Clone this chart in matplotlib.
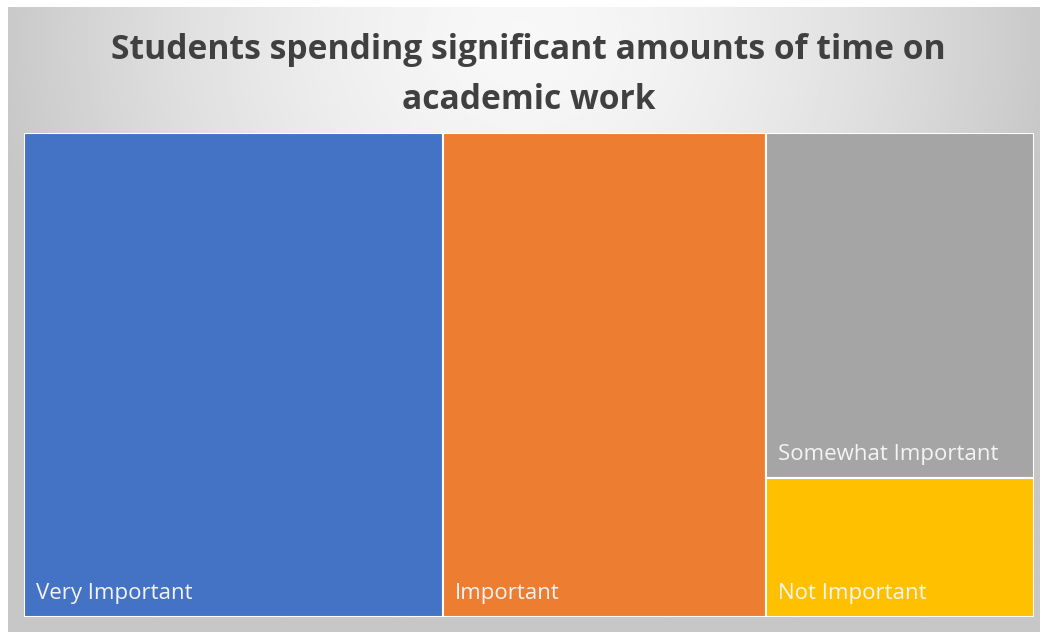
import numpy as np
import matplotlib.pyplot as plt

# Share of students (%) rating time on academic work
categories = ["Very Important", "Important", "Somewhat Important", "Not Important"]
values = [41.5, 32.0, 18.9, 7.6]
colors = ["#4472c4", "#ed7d31", "#a5a5a5", "#ffc000"]

title = "Students spending significant amounts of time on\nacademic work"


def treemap_layout(vals, width, height):
    """Full-height columns for the leading items, last two stacked in one column."""
    total = sum(vals)
    rects = []
    x = 0.0
    for v in vals[:-2]:
        w = width * v / total
        rects.append((x, 0.0, w, height))
        x += w
    rest = vals[-2:]
    w = width - x
    y = height
    for v in rest:
        h = height * v / sum(rest)
        y -= h
        rects.append((x, y, w, h))
    return rects


fig = plt.figure(figsize=(10.4, 6.32), dpi=100)
fig.patch.set_facecolor("white")

# gradient backdrop of the chart frame
bg = fig.add_axes([8 / 1040, 0, 1 - 8 / 1040, 1 - 7 / 632])
gx, gy = np.meshgrid(np.linspace(-1, 1, 400), np.linspace(-1, 1, 250))
r = np.sqrt((gx / 1.0) ** 2 + ((gy + 0.9) / 1.5) ** 2)
shade = np.clip(0.97 - 0.18 * r ** 1.6, 0.78, 0.97)
bg.imshow(shade, cmap="gray", vmin=0, vmax=1, aspect="auto", extent=[0, 1, 0, 1])
bg.set_axis_off()

W, H = 1010.0, 484.0
ax = fig.add_axes([24 / 1040, (632 - 617) / 632, W / 1040, H / 632])
ax.set_xlim(0, W)
ax.set_ylim(0, H)
ax.set_axis_off()

for (x, y, w, h), name, c in zip(treemap_layout(values, W, H), categories, colors):
    ax.add_patch(plt.Rectangle((x, y), w, h, facecolor=c, edgecolor="white", linewidth=1.5))
    ax.text(x + 12, y + 18, name, color="#f4f4f4", fontsize=16,
            family="Open Sans", va="baseline", ha="left")

fig.text(0.508, 1 - 75 / 632, title, ha="center", va="center", fontsize=24.2,
         fontweight="bold", family="Open Sans", color="#404040", linespacing=1.6)

fig.savefig("out.png", dpi=100)
